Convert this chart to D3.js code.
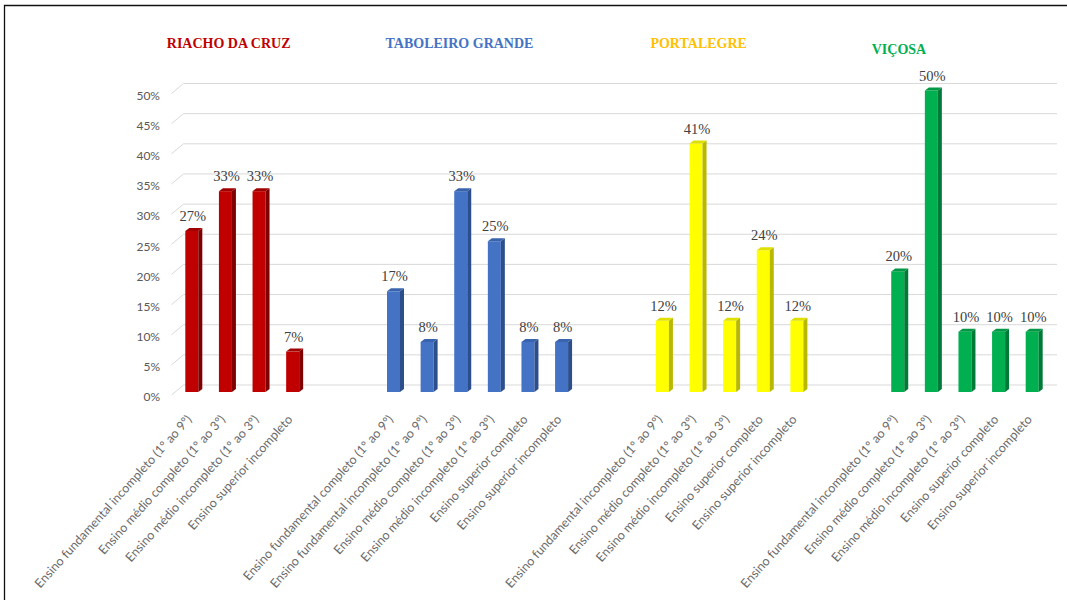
<!DOCTYPE html>
<html>
<head>
<meta charset="utf-8">
<script src="https://cdn.jsdelivr.net/npm/d3@7"></script>
<style>
  body { margin: 0; background: #fff; }
  svg { display: block; }
</style>
</head>
<body>
<div id="chart"></div>
<script>
// DATOS
const groupNames = ["RIACHO DA CRUZ", "TABOLEIRO GRANDE", "PORTALEGRE", "VIÇOSA"];

const riachoCats = [
  "Ensino fundamental incompleto (1º ao 9º)",
  "Ensino médio completo (1º ao 3º)",
  "Ensino médio incompleto (1º ao 3º)",
  "Ensino superior incompleto"
];
const riachoVals = [0.267, 0.333, 0.333, 0.067];

const taboleiroCats = [
  "Ensino fundamental completo (1º ao 9º)",
  "Ensino fundamental incompleto (1º ao 9º)",
  "Ensino médio completo (1º ao 3º)",
  "Ensino médio incompleto (1º ao 3º)",
  "Ensino superior completo",
  "Ensino superior incompleto"
];
const taboleiroVals = [0.167, 0.083, 0.333, 0.25, 0.083, 0.083];

const portalegreCats = [
  "Ensino fundamental incompleto (1º ao 9º)",
  "Ensino médio completo (1º ao 3º)",
  "Ensino médio incompleto (1º ao 3º)",
  "Ensino superior completo",
  "Ensino superior incompleto"
];
const portalegreVals = [0.118, 0.412, 0.118, 0.235, 0.118];

const vicosaCats = [
  "Ensino fundamental incompleto (1º ao 9º)",
  "Ensino médio completo (1º ao 3º)",
  "Ensino médio incompleto (1º ao 3º)",
  "Ensino superior completo",
  "Ensino superior incompleto"
];
const vicosaVals = [0.20, 0.50, 0.10, 0.10, 0.10];

const yTicks = [0, 0.05, 0.10, 0.15, 0.20, 0.25, 0.30, 0.35, 0.40, 0.45, 0.50];

// ESTILOS
const palette = [
  { front: "#C00000", side: "#7E0000", top: "#A00000", title: "#C00000" },
  { front: "#4472C4", side: "#2C4F8C", top: "#3A63AD", title: "#4472C4" },
  { front: "#FFFF00", side: "#B8B800", top: "#E0E000", title: "#FFC000" },
  { front: "#00B050", side: "#007A36", top: "#009844", title: "#00B050" }
];
const titleOffset = [[-25, 48], [-8, 48], [-12, 48], [-26, 54]];

const groupCats = [riachoCats, taboleiroCats, portalegreCats, vicosaCats];
const groupVals = [riachoVals, taboleiroVals, portalegreVals, vicosaVals];

// CONSTRUIR FILAS Y DOMINIO (DOS ESPACIOS VACIOS ENTRE GRUPOS)
let rows = [];
let domain = [];
groupCats.forEach((cats, g) => {
  if (g > 0) { domain.push("gap" + g + "a", "gap" + g + "b"); }
  cats.forEach((c, i) => {
    let key = g + "|" + i;
    domain.push(key);
    rows.push({ key: key, group: g, cat: c, val: groupVals[g][i] });
  });
});
const labelByKey = {};
rows.forEach(d => labelByKey[d.key] = d.cat);

const width = 1067, height = 600;
const depthX = 12, depthY = 10;   // profundidad del piso
const barDX = 4, barDY = 3;       // profundidad de las barras

const svg = d3.select("#chart").append("svg")
  .attr("width", width)
  .attr("height", height);

const x = d3.scaleBand()
  .domain(domain)
  .range([175, 1049]);

const y = d3.scaleLinear()
  .domain([0, 0.5])
  .range([395, 93.5]);

// GRIDLINES CON PERSPECTIVA
svg.append("g")
  .selectAll("path")
  .data(yTicks)
  .enter()
  .append("path")
  .attr("d", t => `M171.5,${y(t)} L${171.5 + depthX},${y(t) - depthY} H1057`)
  .attr("fill", "none")
  .attr("stroke", "#D9D9D9")
  .attr("stroke-width", 1);

// EJE Y
const yAxis = d3.axisLeft(y)
  .tickValues(yTicks)
  .tickFormat(d3.format(".0%"))
  .tickSize(0)
  .tickPadding(0);

const yG = svg.append("g")
  .attr("transform", "translate(160, 2)")
  .call(yAxis);
yG.select(".domain").remove();
yG.selectAll("text")
  .attr("font-family", "Lato, 'Open Sans', sans-serif")
  .attr("font-size", "12px")
  .attr("fill", "#595959");

// BARRAS 3D
const barW = 13;
const bars = svg.append("g")
  .selectAll("g")
  .data(rows)
  .enter()
  .append("g");

const cx = d => x(d.key) + x.bandwidth() / 2;
const xl = d => cx(d) - barW / 2;
const yTop = d => y(d.val) - 3;
const yBase = y(0) - 3;

bars.append("rect")
  .attr("x", d => xl(d))
  .attr("y", d => yTop(d))
  .attr("width", barW)
  .attr("height", d => yBase - yTop(d))
  .attr("fill", d => palette[d.group].front);

bars.append("path")
  .attr("d", d => {
    let xr = xl(d) + barW;
    return `M${xr},${yTop(d)} L${xr + barDX},${yTop(d) - barDY} L${xr + barDX},${yBase - barDY} L${xr},${yBase} Z`;
  })
  .attr("fill", d => palette[d.group].side);

bars.append("path")
  .attr("d", d => {
    let a = xl(d), b = xl(d) + barW, t = yTop(d);
    return `M${a},${t} L${a + barDX},${t - barDY} L${b + barDX},${t - barDY} L${b},${t} Z`;
  })
  .attr("fill", d => palette[d.group].top);

// ETIQUETAS DE VALOR
bars.append("text")
  .attr("x", d => cx(d) + 1)
  .attr("y", d => yTop(d) - 10)
  .attr("text-anchor", "middle")
  .attr("font-family", "'Liberation Serif', 'Times New Roman', serif")
  .attr("font-size", "14.5px")
  .attr("fill", "#404040")
  .text(d => d3.format(".0%")(d.val));

// EJE X CON ETIQUETAS ROTADAS
const xAxis = d3.axisBottom(x)
  .tickFormat(k => labelByKey[k] || "")
  .tickSize(0);

const xG = svg.append("g")
  .attr("transform", "translate(0, 414)")
  .call(xAxis);
xG.select(".domain").remove();
xG.selectAll("text")
  .attr("x", -4)
  .attr("y", 0)
  .attr("dy", "0.35em")
  .attr("transform", "rotate(-48)")
  .attr("text-anchor", "end")
  .attr("font-family", "Lato, 'Open Sans', sans-serif")
  .attr("font-size", "12.5px")
  .attr("fill", "#6a6a6a");

// TITULOS DE GRUPO
svg.append("g")
  .selectAll("text")
  .data(groupNames)
  .enter()
  .append("text")
  .attr("x", (d, g) => cx(rows.find(r => r.group === g)) + titleOffset[g][0])
  .attr("y", (d, g) => titleOffset[g][1])
  .attr("font-family", "'Liberation Serif', 'Times New Roman', serif")
  .attr("font-weight", "bold")
  .attr("font-size", "14px")
  .attr("fill", (d, g) => palette[g].title)
  .text(d => d);

// MARCO
svg.append("path")
  .attr("d", "M4.5,600 V5.5 H1067")
  .attr("fill", "none")
  .attr("stroke", "#111")
  .attr("stroke-width", 1.3);
</script>
</body>
</html>
